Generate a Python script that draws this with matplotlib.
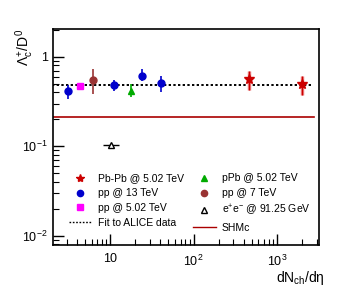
import numpy as np
import matplotlib
matplotlib.use("Agg")
import matplotlib.pyplot as plt
from matplotlib.ticker import FixedLocator, FuncFormatter, LogLocator, NullFormatter
from matplotlib.lines import Line2D

# Pb-Pb @ 5.02 TeV
pbpb_x = [456, 2000]
pbpb_y = [0.568, 0.495]
pbpb_lo = [0.138, 0.125]
pbpb_hi = [0.132, 0.114]

# pp @ 13 TeV
pp13_x = [3.15, 11.0, 23.8, 40.4]
pp13_y = [0.417, 0.48, 0.618, 0.508]
pp13_lo = [0.08, 0.06, 0.078, 0.108]
pp13_hi = [0.073, 0.064, 0.112, 0.106]

# pp @ 5.02 TeV
pp5_x = [4.4]
pp5_y = [0.478]
pp5_err = [0.03]

# pPb @ 5.02 TeV
ppb_x = [17.6]
ppb_y = [0.417]
ppb_lo = [0.062]
ppb_hi = [0.079]

# pp @ 7 TeV
pp7_x = [6.2]
pp7_y = [0.553]
pp7_lo = [0.17]
pp7_hi = [0.177]

# e+e- @ 91.25 GeV
ee_x = [10.3]
ee_y = [0.104]
ee_xlo = [2.0]
ee_xhi = [2.3]

# fit and SHMc
fit_x = [2.0, 2700]
fit_y = [0.487, 0.487]
shm_x = [2.0, 2800]
shm_y = [0.215, 0.215]

plt.rcParams['font.family'] = ['Liberation Sans', 'DejaVu Sans']
plt.rcParams['mathtext.fontset'] = 'custom'
plt.rcParams['mathtext.rm'] = 'Liberation Sans'
plt.rcParams['mathtext.it'] = 'Liberation Sans'

fig = plt.figure(figsize=(3.55, 2.92), dpi=100)
ax = fig.add_axes([0.149, 0.161, 0.75, 0.74])

blue = '#0000cc'
red = '#cc0000'

ax.plot(fit_x, fit_y, color='black', ls=(0, (1.2, 1.2)), lw=1.4, zorder=1)
ax.plot(shm_x, shm_y, color='#aa0000', lw=1.2, zorder=1)

# Pb-Pb systematics drawn as light bars behind the points
ax.errorbar(pbpb_x, pbpb_y, yerr=[pbpb_lo, pbpb_hi], fmt='none', ecolor='#ee8888',
            elinewidth=2.5, capsize=0, zorder=2)
ax.errorbar(pbpb_x, pbpb_y, yerr=[pbpb_lo, pbpb_hi], fmt='*', color=red, ms=7,
            elinewidth=1.0, capsize=0, zorder=3)
ax.errorbar(pp13_x, pp13_y, yerr=[pp13_lo, pp13_hi], fmt='o', color=blue, ms=5,
            elinewidth=1.2, capsize=0, zorder=3)
ax.errorbar(pp5_x, pp5_y, yerr=pp5_err, fmt='s', color='#ff00ff', ms=4.5,
            elinewidth=1.2, capsize=0, zorder=3)
ax.errorbar(ppb_x, ppb_y, yerr=[ppb_lo, ppb_hi], fmt='^', color='#00aa00', ms=5,
            elinewidth=1.2, capsize=0, zorder=3)
ax.errorbar(pp7_x, pp7_y, yerr=[pp7_lo, pp7_hi], fmt='o', color='#993333', ms=5,
            elinewidth=1.2, capsize=0, zorder=3)
ax.errorbar(ee_x, ee_y, xerr=[ee_xlo, ee_xhi], fmt='^', mfc='white', mec='black',
            ecolor='black', ms=5, elinewidth=1.0, capsize=0, zorder=3)

ax.set_xscale('log')
ax.set_yscale('log')
ax.set_xlim(2.06, 3200)
ax.set_ylim(0.0079, 2.05)

def fmt_log(v, pos):
    if np.isclose(v, 1):
        return '1'
    if np.isclose(v, 10):
        return '10'
    e = int(round(np.log10(v)))
    return r'$10^{%d}$' % e

ax.xaxis.set_major_locator(FixedLocator([10, 100, 1000]))
ax.yaxis.set_major_locator(FixedLocator([0.01, 0.1, 1]))
ax.xaxis.set_major_formatter(FuncFormatter(fmt_log))
ax.yaxis.set_major_formatter(FuncFormatter(fmt_log))
ax.xaxis.set_minor_locator(LogLocator(base=10, subs=np.arange(2, 10)))
ax.yaxis.set_minor_locator(LogLocator(base=10, subs=np.arange(2, 10)))
ax.xaxis.set_minor_formatter(NullFormatter())
ax.yaxis.set_minor_formatter(NullFormatter())
ax.tick_params(which='both', direction='in', top=False, right=False, labelsize=9)
ax.tick_params(which='major', length=8, width=1)
ax.tick_params(which='minor', length=4, width=0.8)
ax.tick_params(axis='x', pad=6)
for s in ax.spines.values():
    s.set_linewidth(1.2)

ax.set_ylabel(r'$\Lambda_{c}^{+}/D^{0}$', loc='top', fontsize=10)
ax.yaxis.set_label_coords(-0.065, 1.0)
ax.set_xlabel(r'$dN_{ch}/d\eta$', loc='right', fontsize=10, labelpad=1)
ax.xaxis.set_label_coords(1.02, -0.11)

handles = [
    Line2D([], [], ls='none', marker='*', color=red, ms=6),
    Line2D([], [], ls='none', marker='o', color=blue, ms=4.5),
    Line2D([], [], ls='none', marker='s', color='#ff00ff', ms=4.5),
    Line2D([], [], color='black', ls=(0, (1.2, 1.2)), lw=1.0),
    Line2D([], [], ls='none', marker='^', color='#00aa00', ms=4.5),
    Line2D([], [], ls='none', marker='o', color='#993333', ms=4.5),
    Line2D([], [], ls='none', marker='^', mfc='white', mec='black', ms=5),
    Line2D([], [], color='#aa0000', lw=1.0),
]
labels = ['Pb-Pb @ 5.02 TeV', 'pp @ 13 TeV', 'pp @ 5.02 TeV', 'Fit to ALICE data',
          'pPb @ 5.02 TeV', 'pp @ 7 TeV', r'e$^{+}$e$^{-}$ @ 91.25 GeV', 'SHMc']
ax.legend(handles, labels, ncol=2, loc='lower left', bbox_to_anchor=(0.025, 0.014),
          frameon=False, fontsize=7.5, handlelength=2.2, columnspacing=0.9,
          labelspacing=0.45, handletextpad=0.55)

fig.savefig('out.png', dpi=100)
